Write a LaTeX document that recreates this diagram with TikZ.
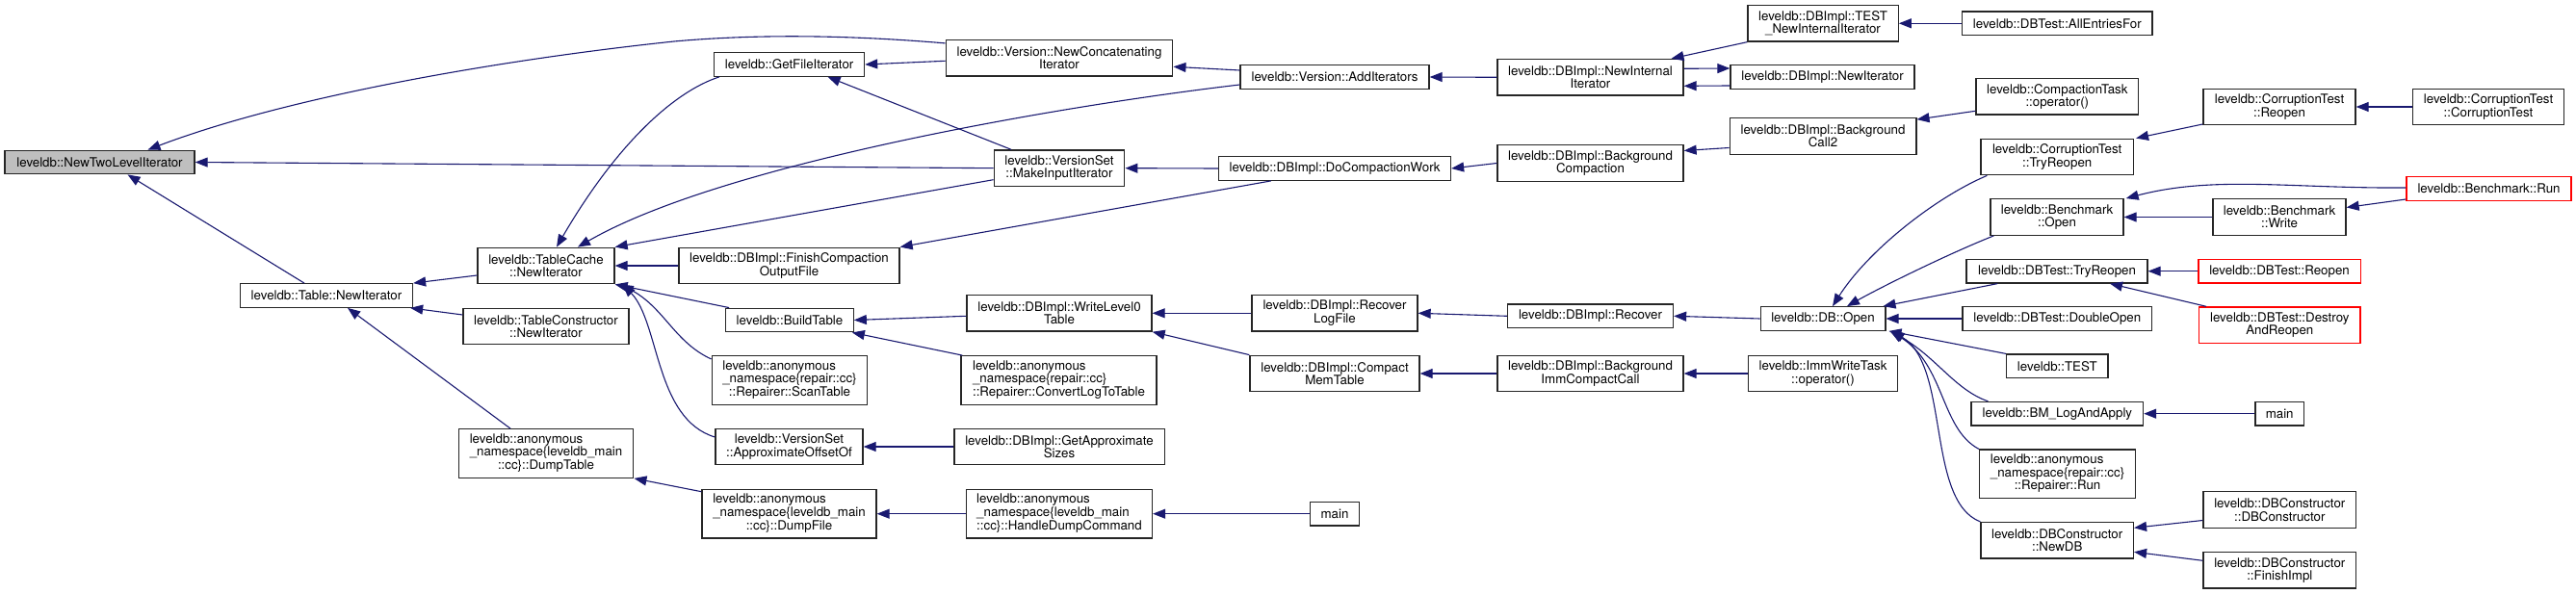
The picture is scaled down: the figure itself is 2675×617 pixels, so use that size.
\documentclass[tikz,border=0pt]{standalone}
\usepackage{fontspec}
\setmainfont{TeX Gyre Heros}
\usetikzlibrary{arrows.meta}
\definecolor{edgeblue}{HTML}{191970}
\newcommand{\lastrow}[1]{\multicolumn{1}{@{}c@{}}{#1}}

\begin{document}
\begin{tikzpicture}[x=1pt, y=-1pt,
  fn/.style={draw=black!85, line width=1.3pt, fill=white, inner sep=0pt, align=center,
    font=\fontsize{13.3}{13.4}\selectfont},
  root/.style={fn, fill=black!25},
  ext/.style={fn, draw=red},
  bw/.style={minimum width=#1pt},
  h1/.style={minimum height=24.5pt},
  h2/.style={minimum height=37.5pt},
  h3/.style={minimum height=50.5pt},
  call/.style={draw=edgeblue, line width=1.1pt, -{Triangle[length=13pt,width=10pt]}}]
  \useasboundingbox (0,0) rectangle (2675,617);

  % Column 1 and 2
  \node[root, h1, bw=197] (ntl) at (103.5,168.5) {leveldb::NewTwoLevelIterator};
  \node[fn, h1, bw=179] (tni) at (339,307) {leveldb::Table::NewIterator};

  % Column 3
  \node[fn, h2, bw=142] (tcni) at (567,276) {leveldb::TableCache\\::NewIterator};
  \node[fn, h2, bw=172] (tconi) at (567,339) {leveldb::TableConstructor\\::NewIterator};
  \node[fn, h3, bw=181.6] (dumptable) at (567,471) {\begin{tabular}{@{}l@{}}leveldb::anonymous\\\_namespace\{leveldb\_main\\\lastrow{::cc\}::DumpTable}\end{tabular}};

  % Column 4
  \node[fn, h1, bw=156] (gfi) at (819.6,67) {leveldb::GetFileIterator};
  \node[fn, h2, bw=229] (fcof) at (819.5,276) {leveldb::DBImpl::FinishCompaction\\OutputFile};
  \node[fn, h1, bw=132.4] (buildtable) at (820,332.5) {leveldb::BuildTable};
  \node[fn, h3, bw=161.6] (scantable) at (820,395) {\begin{tabular}{@{}l@{}}leveldb::anonymous\\\_namespace\{repair::cc\}\\\lastrow{::Repairer::ScanTable}\end{tabular}};
  \node[fn, h2, bw=153] (aoo) at (819.5,464) {leveldb::VersionSet\\::ApproximateOffsetOf};
  \node[fn, h3, bw=181] (dumpfile) at (819.5,533.7) {\begin{tabular}{@{}l@{}}leveldb::anonymous\\\_namespace\{leveldb\_main\\\lastrow{::cc\}::DumpFile}\end{tabular}};

  % Column 5
  \node[fn, h2, bw=235.6] (nci) at (1100,60.3) {leveldb::Version::NewConcatenating\\Iterator};
  \node[fn, h2, bw=135.6] (mii) at (1100,174.7) {leveldb::VersionSet\\::MakeInputIterator};
  \node[fn, h2, bw=192] (wl0t) at (1100,325.3) {leveldb::DBImpl::WriteLevel0\\Table};
  \node[fn, h3, bw=203] (cltt) at (1099.5,395) {\begin{tabular}{@{}l@{}}leveldb::anonymous\\\_namespace\{repair::cc\}\\\lastrow{::Repairer::ConvertLogToTable}\end{tabular}};
  \node[fn, h2, bw=218.3] (gas) at (1100,464) {leveldb::DBImpl::GetApproximate\\Sizes};
  \node[fn, h3, bw=193] (hdc) at (1100,533.7) {\begin{tabular}{@{}l@{}}leveldb::anonymous\\\_namespace\{leveldb\_main\\\lastrow{::cc\}::HandleDumpCommand}\end{tabular}};

  % Column 6
  \node[fn, h1, bw=196] (addit) at (1386,80) {leveldb::Version::AddIterators};
  \node[fn, h1, bw=241] (dcw) at (1386,175) {leveldb::DBImpl::DoCompactionWork};
  \node[fn, h2, bw=172] (rlf) at (1386,325.3) {leveldb::DBImpl::Recover\\LogFile};
  \node[fn, h2, bw=176] (cmt) at (1386,388) {leveldb::DBImpl::Compact\\MemTable};
  \node[fn, h1, bw=50.6] (mainone) at (1386,533.7) {main};

  % Column 7
  \node[fn, h2, bw=193] (nii) at (1651.5,80.3) {leveldb::DBImpl::NewInternal\\Iterator};
  \node[fn, h2, bw=193] (bgc) at (1651.5,169.5) {leveldb::DBImpl::Background\\Compaction};
  \node[fn, h1, bw=172] (recover) at (1651.5,328.3) {leveldb::DBImpl::Recover};
  \node[fn, h2, bw=193] (bicc) at (1651.5,388) {leveldb::DBImpl::Background\\ImmCompactCall};

  % Column 8
  \node[fn, h2, bw=156.3] (tnii) at (1893,24.3) {leveldb::DBImpl::TEST\\\_NewInternalIterator};
  \node[fn, h1, bw=191] (dbni) at (1892.5,80) {leveldb::DBImpl::NewIterator};
  \node[fn, h2, bw=193.7] (bc2) at (1893,141.5) {leveldb::DBImpl::Background\\Call2};
  \node[fn, h1, bw=129.7] (dbopen) at (1893,331) {leveldb::DB::Open};
  \node[fn, h2, bw=155.5] (iwto) at (1893,388) {leveldb::ImmWriteTask\\::operator()};

  % Column 9
  \node[fn, h1, bw=197.4] (aef) at (2136.3,24.3) {leveldb::DBTest::AllEntriesFor};
  \node[fn, h2, bw=168.7] (cto) at (2136.3,100.3) {leveldb::CompactionTask\\::operator()};
  \node[fn, h2, bw=158.4] (cttr) at (2136.2,163) {leveldb::CorruptionTest\\::TryReopen};
  \node[fn, h2, bw=138] (bopen) at (2136,225.5) {leveldb::Benchmark\\::Open};
  \node[fn, h1, bw=188] (dbttr) at (2136,281.7) {leveldb::DBTest::TryReopen};
  \node[fn, h1, bw=196.7] (dblopen) at (2136.3,331) {leveldb::DBTest::DoubleOpen};
  \node[fn, h1, bw=105.5] (test) at (2136.3,380.3) {leveldb::TEST};
  \node[fn, h1, bw=178.5] (bmla) at (2136.3,429.7) {leveldb::BM\_LogAndApply};
  \node[fn, h3, bw=162] (rrun) at (2136.5,492.3) {\begin{tabular}{@{}l@{}}leveldb::anonymous\\\_namespace\{repair::cc\}\\\lastrow{::Repairer::Run}\end{tabular}};
  \node[fn, h2, bw=158.4] (newdb) at (2136.2,561.3) {leveldb::DBConstructor\\::NewDB};

  % Column 10
  \node[fn, h2, bw=158] (ctr) at (2367,111) {leveldb::CorruptionTest\\::Reopen};
  \node[fn, h2, bw=138] (bwrite) at (2367,225.5) {leveldb::Benchmark\\::Write};
  \node[ext, h1, bw=168.3] (dbtreopen) at (2367,281.7) {leveldb::DBTest::Reopen};
  \node[ext, h2, bw=167.4] (dar) at (2367.3,337.7) {leveldb::DBTest::Destroy\\AndReopen};
  \node[fn, h1, bw=50.4] (maintwo) at (2367.2,429.7) {main};
  \node[fn, h2, bw=158.6] (dbcdbc) at (2367.3,529.5) {leveldb::DBConstructor\\::DBConstructor};
  \node[fn, h2, bw=158.6] (finish) at (2367.3,592.3) {leveldb::DBConstructor\\::FinishImpl};

  % Column 11
  \node[fn, h2, bw=157.5] (ctct) at (2584,111) {leveldb::CorruptionTest\\::CorruptionTest};
  \node[ext, h1, bw=171] (brun) at (2584.5,196) {leveldb::Benchmark::Run};

  % Calls into NewTwoLevelIterator and Table::NewIterator
  \draw[call] ([yshift=-4pt]nci.north west) .. controls (900,38) and (800,34) .. (700,43)
    .. controls (520,62) and (300,100) .. ([xshift=50pt]ntl.north);
  \draw[call] (mii.west) -- (ntl.east);
  \draw[call] ([xshift=-23pt]tni.north) -- ([xshift=29pt]ntl.south);
  \draw[call] ([yshift=-10pt]tcni.west) -- (tni.north east);
  \draw[call] ([yshift=12pt]tconi.west) -- ([xshift=-3pt]tni.south east);
  \draw[call] ([xshift=-37pt]dumptable.north) -- ([xshift=22pt]tni.south);
  \draw[call] ([yshift=23pt]dumpfile.west) -- (dumptable.south east);
  \draw[call] (hdc.west) -- (dumpfile.east);
  \draw[call] (mainone.west) -- (hdc.east);

  % Calls into TableCache::NewIterator
  \draw[call] ([xshift=6pt]gfi.south west) .. controls (700,95) and (640,150) .. ([xshift=11pt]tcni.north);
  \draw[call] ([yshift=-8pt]addit.west) .. controls (1100,110) and (750,170) .. ([xshift=33pt]tcni.north);
  \draw[call] ([yshift=-12pt]mii.west) -- (tcni.north east);
  \draw[call] (fcof.west) -- (tcni.east);
  \draw[call] ([xshift=4pt]buildtable.north west) -- (tcni.south east);
  \draw[call] ([yshift=22pt]scantable.west) .. controls (700,355) and (690,320) .. ([xshift=6pt]tcni.south east);
  \draw[call] ([yshift=10pt]aoo.west) .. controls (680,435) and (685,335) .. ([xshift=8pt]tcni.south east);

  % Middle columns
  \draw[call] ([yshift=-3pt]wl0t.west) -- (buildtable.east);
  \draw[call] ([xshift=2pt]cltt.north west) -- ([xshift=-2pt]buildtable.south east);
  \draw[call] (gas.west) -- (aoo.east);
  \draw[call] (rlf.west) -- (wl0t.east);
  \draw[call] (cmt.north west) -- (wl0t.south east);
  \draw[call] (recover.west) -- (rlf.east);
  \draw[call] (bicc.west) -- (cmt.east);
  \draw[call] (iwto.west) -- (bicc.east);
  \draw[call] (dbopen.west) -- (recover.east);
  \draw[call] ([yshift=-3pt]nci.west) -- (gfi.east);
  \draw[call] ([xshift=-50pt]mii.north) -- ([xshift=40pt]gfi.south);
  \draw[call] ([yshift=7pt]addit.west) -- ([yshift=-9pt]nci.east);
  \draw[call] (nii.west) -- (addit.east);
  \draw[call] (dcw.west) -- (mii.east);
  \draw[call] ([xshift=55pt]dcw.south west) -- (fcof.north east);
  \draw[call] (bgc.west) -- (dcw.east);
  \draw[call] ([yshift=-12pt]bc2.west) -- ([yshift=13pt]bgc.east);
  \draw[call] ([yshift=-15pt]cto.west) -- ([yshift=-2pt]bc2.north east);
  \draw[call] (tnii.south west) -- ([xshift=84pt]nii.north);
  \draw[call] ([yshift=-9pt]dbni.west) -- ([yshift=-9pt]nii.east);
  \draw[call] ([yshift=9pt]nii.east) -- ([yshift=9pt]dbni.west);
  \draw[call] (aef.west) -- (tnii.east);

  % Calls into DB::Open
  \draw[call] ([xshift=7pt]cttr.south west) .. controls (2010,205) and (1940,260) .. ([xshift=10pt]dbopen.north);
  \draw[call] ([xshift=4pt]bopen.south west) .. controls (2020,265) and (1950,300) .. ([xshift=25pt]dbopen.north);
  \draw[call] ([xshift=33pt]dbttr.south west) -- ([xshift=-3pt]dbopen.north east);
  \draw[call] (dblopen.west) -- (dbopen.east);
  \draw[call] (test.north west) -- ([xshift=3pt]dbopen.south east);
  \draw[call] ([xshift=18pt]bmla.north west) .. controls (2030,405) and (2010,370) .. ([xshift=4pt]dbopen.south east);
  \draw[call] (rrun.north west) .. controls (2015,445) and (2020,380) .. ([xshift=5pt]dbopen.south east);
  \draw[call] (newdb.north west) .. controls (2000,520) and (2025,380) .. ([xshift=6pt]dbopen.south east);

  % Right columns
  \draw[call] ([yshift=-18pt]ctr.west) -- ([xshift=2pt]cttr.north east);
  \draw[call] (ctct.west) -- (ctr.east);
  \draw[call] ([yshift=1pt]brun.west) .. controls (2380,196) and (2300,182) .. ([xshift=2pt]bopen.north east);
  \draw[call] (bwrite.west) -- (bopen.east);
  \draw[call] ([yshift=-11pt]brun.west) -- ([yshift=10pt]bwrite.east);
  \draw[call] (dbtreopen.west) -- (dbttr.east);
  \draw[call] ([xshift=8pt]dar.north west) -- ([xshift=55pt]dbttr.south);
  \draw[call] (maintwo.west) -- (bmla.east);
  \draw[call] ([yshift=-11pt]dbcdbc.west) -- ([yshift=13pt]newdb.east);
  \draw[call] ([yshift=10pt]finish.west) -- ([yshift=-12pt]newdb.east);
\end{tikzpicture}
\end{document}
